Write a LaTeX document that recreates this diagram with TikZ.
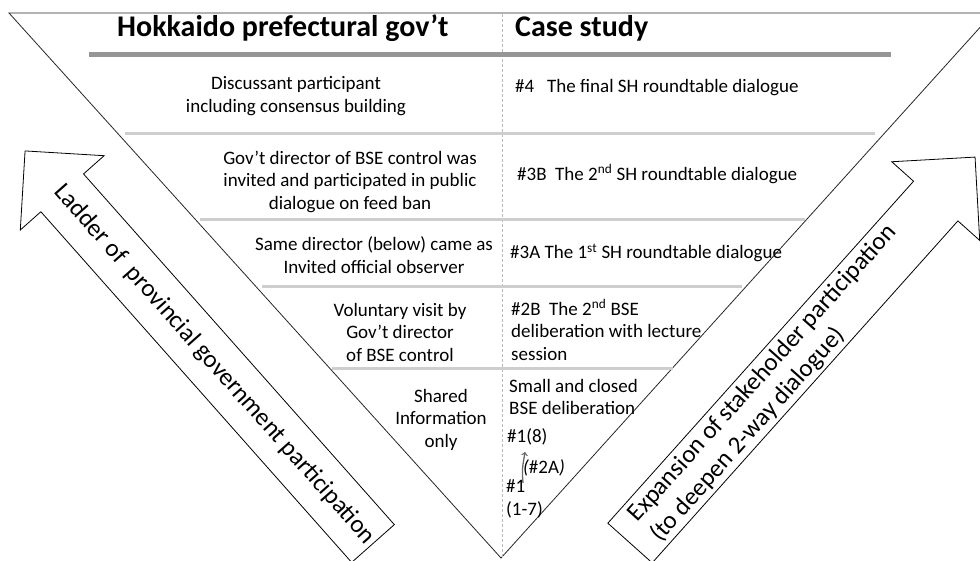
\documentclass[tikz,border=0pt]{standalone}
\usepackage{fontspec}
\setmainfont{Carlito}
\usepackage{tikz}
\usetikzlibrary{arrows,positioning,calc}
\definecolor{headgray}{RGB}{150,150,150}
\definecolor{sepgray}{RGB}{206,206,206}
\definecolor{dashgray}{RGB}{185,185,185}
\definecolor{tinygray}{RGB}{105,105,105}

\begin{document}
\begin{tikzpicture}[x=1pt, y=-1pt,
    txt/.style={inner sep=0pt, font=\fontsize{19}{22.5}\selectfont},
    lefttxt/.style={txt, align=center},
    righttxt/.style={txt, align=left, anchor=west},
    sep/.style={line width=3pt, sepgray},
    headtxt/.style={anchor=base west, inner sep=0pt, font=\fontsize{30}{34}\selectfont\bfseries},
    bigtxt/.style={inner sep=0pt, font=\fontsize{25}{30}\selectfont}]
    \useasboundingbox (0,0) rectangle (980,560);
    \clip (0,0) rectangle (980,560);

    % Triangle
    \draw[line width=0.8pt, black!85] (9,13) -- (993,13) -- (501,558) -- cycle;
    \draw[dashgray, dash pattern=on 3pt off 2pt, line width=0.6pt] (502,14) -- (502,558);

    % Titres
    \node[headtxt] (hgov) at (117,36) {Hokkaido prefectural gov't};
    \node[headtxt] (hcase) at (515,36) {Case study};
    \draw[headgray, line width=5pt] (89,54.5) -- (891,54.5);

    % Separations
    \foreach \y/\xa/\xb in {133/125/875, 219/200/805, 286/262/742, 368/332/673} {
        \draw[sep] (\xa,\y) -- (\xb,\y);
    }

    % Gouvernement
    \node[lefttxt] (l4) at (296,96) {Discussant participant\\including consensus building};
    \node[lefttxt] (l3b) at (350,181.5) {Gov't director of BSE control was\\invited and participated in public\\dialogue on feed ban};
    \node[lefttxt] (l3a) at (374,255) {Same director (below) came as\\Invited official observer};
    \node[lefttxt] (l2b) at (400,332) {Voluntary visit by\\Gov't director\\of BSE control};
    \node[lefttxt] (l1) at (441,419.5) {Shared\\Information\\only};

    % Cas
    \node[righttxt] (r4) at (515,88) {\#4\ \ \ The final SH roundtable dialogue};
    \node[righttxt] (r3b) at (517,174) {\#3B\ \ The 2\textsuperscript{nd} SH roundtable dialogue};
    \node[righttxt] (r3a) at (510,253) {\#3A The 1\textsuperscript{st} SH roundtable dialogue};
    \node[righttxt] (r2b) at (511,330) {\#2B\ \ The 2\textsuperscript{nd} BSE\\deliberation with lecture\\session};
    \node[righttxt] (r1) at (509,397) {Small and closed\\BSE deliberation};
    \node[righttxt] (r18) at (507,437) {\#1(8)};
    \node[righttxt] (r2a) at (523,468) {\textit{(}\#2A\textit{)}};
    \node[righttxt] (r17) at (506,499) {\#1\\(1-7)};
    \coordinate (upfrom) at (523,483);
    \coordinate (upto) at (525,452);
    \draw[-to, tinygray, line width=1.3pt] (upfrom) .. controls (522,470) .. (upto);

    % Fleche gauche
    \begin{scope}[shift={(373,543.5)}, rotate=131.55]
        \draw[line width=0.8pt] (0,-28.5) -- (468.6,-28.5) -- (468.6,-56) -- (524.6,0)
            -- (468.6,56) -- (468.6,28.5) -- (0,28.5) -- cycle;
        \node[bigtxt, rotate=-48.45] (ladder) at (239,0) {Ladder of\ \ provincial government participation};
    \end{scope}

    % Fleche droite
    \begin{scope}[shift={(630,543)}, rotate=48.2]
        \draw[line width=0.8pt] (0,-29.75) -- (458.7,-29.75) -- (458.7,-59) -- (517.7,0)
            -- (458.7,59) -- (458.7,29.75) -- (0,29.75) -- cycle;
        \node[bigtxt, rotate=48.2, anchor=west, align=left] (expand) at (20,1) {Expansion of stakeholder participation\\(to deepen 2-way dialogue)};
    \end{scope}
\end{tikzpicture}
\end{document}
